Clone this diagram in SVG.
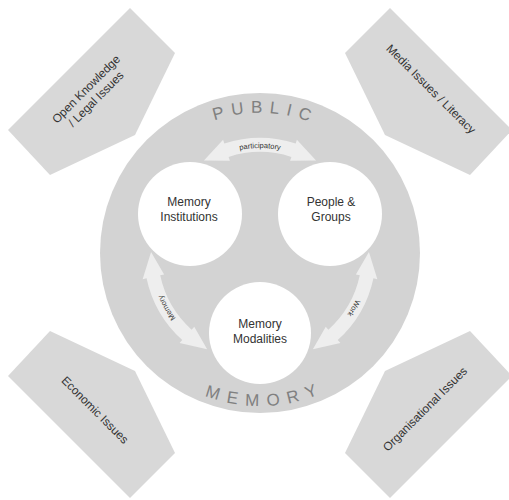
<svg xmlns="http://www.w3.org/2000/svg" width="509" height="500" viewBox="0 0 509 500">
<style>
.box{fill:#d8d8d8}
.boxtxt{font-family:"Liberation Sans",Arial,sans-serif;font-size:11.8px;fill:#333;text-anchor:middle}
.ring{fill:#d3d3d3}
.node{fill:#ffffff}
.ntxt{font-family:"Liberation Sans",Arial,sans-serif;font-size:12px;fill:#333;text-anchor:middle}
.arrow{fill:#eeeeee}
.atxt{font-family:"Liberation Sans",Arial,sans-serif;font-size:7.5px;fill:#333;text-anchor:middle}
.big{font-family:"Liberation Sans",Arial,sans-serif;font-size:17px;fill:#808080;text-anchor:middle}
</style>
<defs>
<path id="arcLabel" d="M168.2,201 A106,106 0 0 1 351.8,201"/>
<path id="arcPublic" d="M128.4,205.1 A140,140 0 0 1 391.6,205.1"/>
<path id="arcMemory" d="M116.2,305.3 A153,153 0 0 0 403.8,305.3"/>
<path id="dblArrow" d="M203.9,160.6 L223.1,139.8 L224.3,143.6 A116,116 0 0 1 295.7,143.6 L296.9,139.8 L316.1,160.6 L290.1,160.7 L291.4,156.9 A102,102 0 0 0 228.6,156.9 L229.9,160.7 Z"/>
</defs>

<g id="box-open-knowledge">
<polygon class="box" points="130,8 175,53 135,135 50,175 8,130"/>
<text class="boxtxt" transform="translate(91,94) rotate(-45)"><tspan x="0" y="-3">Open Knowledge</tspan><tspan x="0" y="11">/ Legal Issues</tspan></text>
</g>
<g id="box-media">
<polygon class="box" points="390,8 345,53 385,135 470,175 512,130"/>
<text class="boxtxt" transform="translate(431,89) rotate(45)" y="4">Media Issues / Literacy</text>
</g>
<g id="box-economic">
<polygon class="box" points="130,498 175,453 135,371 50,331 8,376"/>
<text class="boxtxt" transform="translate(95,410) rotate(45)" y="4">Economic Issues</text>
</g>
<g id="box-organisational">
<polygon class="box" points="390,498 345,453 385,371 470,331 512,376"/>
<text class="boxtxt" transform="translate(425,409) rotate(-45)" y="4">Organisational Issues</text>
</g>

<g id="public-memory">
<circle class="ring" cx="260" cy="253" r="160"/>
<text class="big" letter-spacing="7"><textPath href="#arcPublic" startOffset="51.5%">PUBLIC</textPath></text>
<text class="big" letter-spacing="8"><textPath href="#arcMemory" startOffset="51.5%">MEMORY</textPath></text>
</g>

<g id="connectors">
<g id="arrow-participatory">
<use href="#dblArrow" class="arrow"/>
<text class="atxt"><textPath href="#arcLabel" startOffset="50%">participatory</textPath></text>
</g>
<g id="arrow-work" transform="rotate(120 260 254)">
<use href="#dblArrow" class="arrow"/>
<text class="atxt"><textPath href="#arcLabel" startOffset="50%">Work</textPath></text>
</g>
<g id="arrow-memory" transform="rotate(240 260 254)">
<use href="#dblArrow" class="arrow"/>
<text class="atxt"><textPath href="#arcLabel" startOffset="50%">Memory</textPath></text>
</g>
</g>

<g id="node-institutions">
<circle class="node" cx="190" cy="214" r="52"/>
<text class="ntxt" x="189" y="206">Memory</text>
<text class="ntxt" x="189" y="221">Institutions</text>
</g>
<g id="node-people">
<circle class="node" cx="330" cy="214" r="52"/>
<text class="ntxt" x="331" y="206">People &amp;</text>
<text class="ntxt" x="331" y="221">Groups</text>
</g>
<g id="node-modalities">
<circle class="node" cx="260" cy="333" r="51"/>
<text class="ntxt" x="260" y="328">Memory</text>
<text class="ntxt" x="260" y="343">Modalities</text>
</g>
</svg>
